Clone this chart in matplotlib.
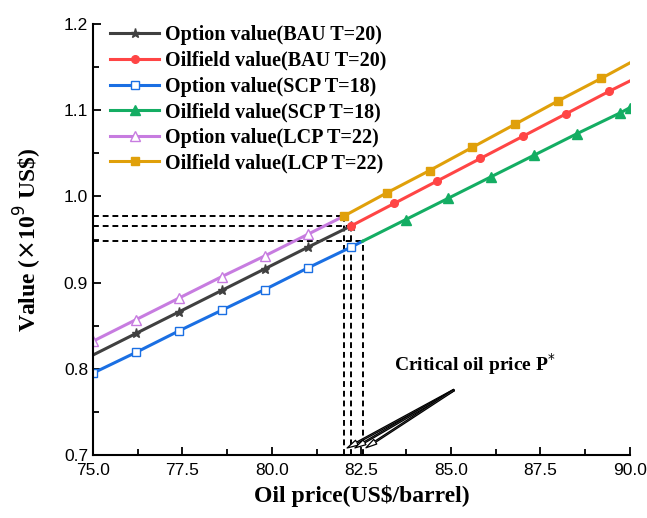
import matplotlib.pyplot as plt
from matplotlib.ticker import MultipleLocator, FormatStrFormatter

# option values (before critical price) and oilfield values (after it), 10^9 US$
opt_bau_x = [75.0, 76.2, 77.4, 78.6, 79.8, 81.0, 82.22]
opt_bau_y = [0.816, 0.841, 0.866, 0.891, 0.916, 0.941, 0.966]
oil_bau_x = [82.22, 83.42, 84.62, 85.82, 87.02, 88.22, 89.42, 90.0]
oil_bau_y = [0.966, 0.992, 1.018, 1.044, 1.070, 1.096, 1.122, 1.134]

opt_scp_x = [75.0, 76.2, 77.4, 78.6, 79.8, 81.0, 82.2, 82.53]
opt_scp_y = [0.795, 0.819, 0.844, 0.868, 0.892, 0.917, 0.941, 0.948]
oil_scp_x = [82.53, 83.73, 84.93, 86.13, 87.33, 88.53, 89.73, 90.0]
oil_scp_y = [0.948, 0.973, 0.998, 1.023, 1.048, 1.073, 1.097, 1.103]

opt_lcp_x = [75.0, 76.2, 77.4, 78.6, 79.8, 81.0, 82.0]
opt_lcp_y = [0.832, 0.857, 0.882, 0.907, 0.931, 0.956, 0.977]
oil_lcp_x = [82.0, 83.2, 84.4, 85.6, 86.8, 88.0, 89.2, 90.0]
oil_lcp_y = [0.977, 1.004, 1.030, 1.057, 1.084, 1.111, 1.137, 1.155]

# critical oil prices (LCP, BAU, SCP) and the values there
crit_p = [82.0, 82.22, 82.53]
crit_v = [0.977, 0.966, 0.948]

fig = plt.figure(figsize=(6.47, 5.18), dpi=100)
ax = fig.add_axes([0.1437, 0.1216, 0.8300, 0.8320])

lw = 2.2
ms = 5.5
ax.plot(opt_bau_x, opt_bau_y, color="#404040", lw=lw, marker="*", ms=ms + 1,
        markevery=slice(1, None), label="Option value(BAU T=20)")
ax.plot(oil_bau_x, oil_bau_y, color="#ff4545", lw=lw, marker="o", ms=ms,
        markevery=slice(0, -1), label="Oilfield value(BAU T=20)")
ax.plot(opt_scp_x, opt_scp_y, color="#1a6fe3", lw=lw, marker="s", ms=ms,
        mfc="white", markevery=slice(0, -1), label="Option value(SCP T=18)")
ax.plot(oil_scp_x, oil_scp_y, color="#14ad63", lw=lw, marker="^", ms=ms + 1,
        markevery=slice(1, None), label="Oilfield value(SCP T=18)")
ax.plot(opt_lcp_x, opt_lcp_y, color="#c77ce0", lw=lw, marker="^", ms=ms + 1,
        mfc="white", markevery=slice(0, -1), label="Option value(LCP T=22)")
ax.plot(oil_lcp_x, oil_lcp_y, color="#e0a00a", lw=lw, marker="s", ms=ms,
        markevery=slice(0, -1), label="Oilfield value(LCP T=22)")

# dashed guides from the critical points to both axes
for p, v in zip(crit_p, crit_v):
    ax.plot([75, p], [v, v], color="black", lw=1.4, ls=(0, (3, 2)), zorder=1)
    ax.plot([p, p], [0.7, v], color="black", lw=1.4, ls=(0, (3, 2)), zorder=1)

serif = ["Liberation Serif", "DejaVu Serif"]
ax.text(83.4, 0.805, r"Critical oil price P$^{*}$", family=serif,
        fontweight="bold", fontsize=14, va="center")
for p in crit_p:
    ax.annotate("", xy=(p + 0.03, 0.7066), xytext=(85.15, 0.777),
                arrowprops=dict(arrowstyle="simple,head_width=0.4,head_length=0.8,tail_width=0.1",
                                fc="white", ec="black", lw=0.9))

ax.set_xlim(75, 90)
ax.set_ylim(0.7, 1.2)
ax.xaxis.set_major_locator(MultipleLocator(2.5))
ax.xaxis.set_minor_locator(MultipleLocator(1.25))
ax.yaxis.set_major_locator(MultipleLocator(0.1))
ax.yaxis.set_minor_locator(MultipleLocator(0.05))
ax.xaxis.set_major_formatter(FormatStrFormatter("%.1f"))
ax.yaxis.set_major_formatter(FormatStrFormatter("%.1f"))
ax.tick_params(which="both", direction="in", width=1.3, labelsize=12.5,
               labelfontfamily="Liberation Sans")
ax.tick_params(which="major", length=6)
ax.tick_params(which="minor", length=4)
ax.tick_params(axis="x", pad=6)
for s in ["top", "right"]:
    ax.spines[s].set_visible(False)
for s in ["left", "bottom"]:
    ax.spines[s].set_linewidth(1.5)

ax.set_xlabel("Oil price(US$/barrel)", family=serif, fontweight="bold", fontsize=17,
              labelpad=5)
ax.set_ylabel(r"Value ($\times$10$^9$ US\$)", family=serif, fontweight="bold",
              fontsize=17, labelpad=14)

ax.legend(loc="upper left", frameon=False, prop=dict(family=serif, weight="bold", size=14.5),
          handlelength=2.4, handletextpad=0.3, labelspacing=0.28,
          borderaxespad=0.2, bbox_to_anchor=(0.01, 1.025))

fig.savefig("out.png", dpi=100)
